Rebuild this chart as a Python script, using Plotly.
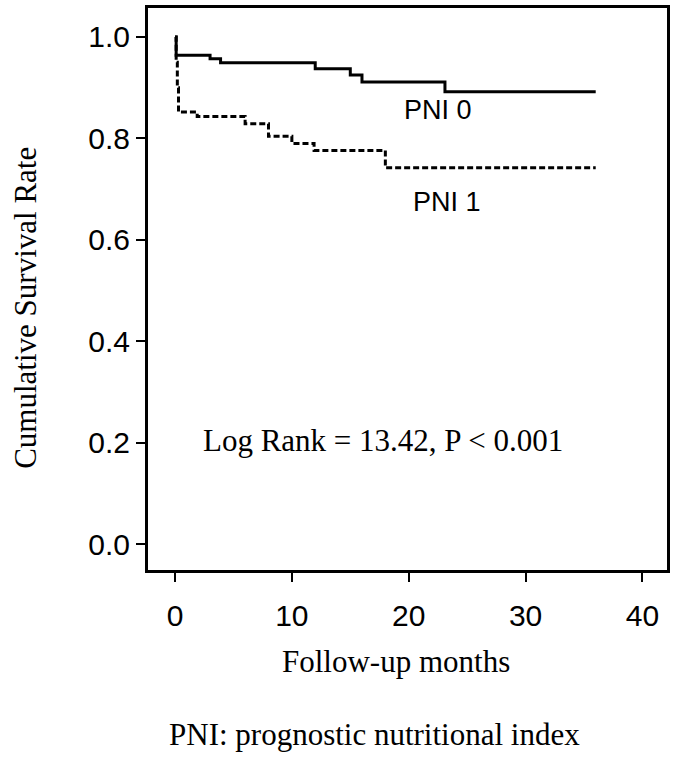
import plotly.graph_objects as go

# Kaplan-Meier step data
pni0_time = [0, 0.1, 3.0, 3.9, 12.0, 15.0, 16.0, 23.1, 36.0]
pni0_surv = [1.0, 0.964, 0.957, 0.949, 0.937, 0.925, 0.911, 0.892, 0.892]

pni1_time = [0, 0.1, 0.2, 0.3, 1.9, 6.0, 8.0, 10.0, 11.9, 18.0, 36.0]
pni1_surv = [1.0, 0.95, 0.90, 0.852, 0.843, 0.829, 0.804, 0.790, 0.776, 0.742, 0.742]

x_ticks = [0, 10, 20, 30, 40]
y_ticks = [0.0, 0.2, 0.4, 0.6, 0.8, 1.0]
y_tick_labels = ["0.0", "0.2", "0.4", "0.6", "0.8", "1.0"]

fig = go.Figure()
fig.add_trace(go.Scatter(x=pni0_time, y=pni0_surv, mode="lines",
                         line=dict(shape="hv", color="black", width=3),
                         name="PNI 0", showlegend=False))
fig.add_trace(go.Scatter(x=pni1_time, y=pni1_surv, mode="lines",
                         line=dict(shape="hv", color="black", width=3, dash="6px,3px"),
                         name="PNI 1", showlegend=False))

tick_font = dict(family="Liberation Sans, Arial", size=30, color="black")
serif = dict(family="Liberation Serif, Times New Roman", size=31, color="black")

fig.update_xaxes(range=[-2.31, 42.1], tickvals=x_ticks, ticks="outside", ticklen=9,
                 tickwidth=2, tickcolor="black", showline=True, linewidth=3,
                 linecolor="black", mirror=True, showgrid=False, zeroline=False,
                 tickfont=tick_font, ticklabelstandoff=8)
fig.update_yaxes(range=[-0.051, 1.057], tickvals=y_ticks, ticktext=y_tick_labels,
                 ticks="outside", ticklen=9, tickwidth=2, tickcolor="black",
                 showline=True, linewidth=3, linecolor="black", mirror=True,
                 showgrid=False, zeroline=False, tickfont=tick_font)

label_font = dict(family="Liberation Sans, Arial", size=27, color="black")
fig.add_annotation(x=22.5, y=0.855, text="PNI 0", showarrow=False, font=label_font,
                   xanchor="center", yanchor="middle")
fig.add_annotation(x=23.3, y=0.675, text="PNI 1", showarrow=False, font=label_font,
                   xanchor="center", yanchor="middle")
fig.add_annotation(x=17.8, y=0.204, text="Log Rank = 13.42, P < 0.001", showarrow=False,
                   font=serif, xanchor="center", yanchor="middle")

fig.add_annotation(xref="paper", yref="paper", x=0.477, y=-0.163, text="Follow-up months",
                   showarrow=False, font=serif, xanchor="center", yanchor="middle")
fig.add_annotation(xref="paper", yref="paper", x=0.4365, y=-0.292,
                   text="PNI: prognostic nutritional index",
                   showarrow=False, font=serif, xanchor="center", yanchor="middle")
fig.add_annotation(xref="paper", yref="paper", x=-0.2365, y=0.467,
                   text="Cumulative Survival Rate", textangle=-90,
                   showarrow=False, font=serif, xanchor="center", yanchor="middle")

fig.update_layout(width=675, height=758, margin=dict(l=148, r=7, t=5, b=188),
                  plot_bgcolor="white", paper_bgcolor="white")

fig.write_html("out.html", config={"displayModeBar": False},
               post_script="document.body.style.margin='0';")
